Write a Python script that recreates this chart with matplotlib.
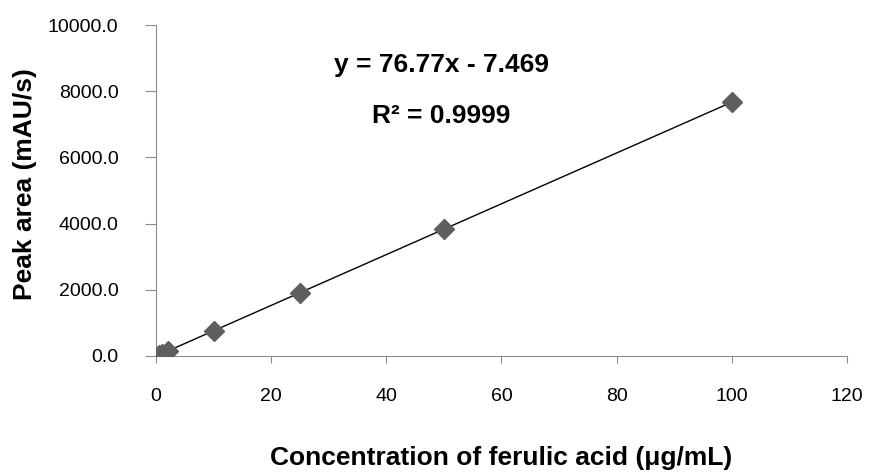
import matplotlib
matplotlib.use("Agg")
import matplotlib.pyplot as plt
import numpy as np

plt.rcParams["font.family"] = ["Liberation Sans", "DejaVu Sans"]

# calibration data (ferulic acid)
conc = [0.5, 1, 2, 10, 25, 50, 100]
area = [31, 70, 146, 760, 1911, 3831, 7670]
slope, intercept = 76.77, -7.469
x_ticks = [0, 20, 40, 60, 80, 100, 120]
y_ticks = [0, 2000, 4000, 6000, 8000, 10000]

fig = plt.figure(figsize=(8.69, 4.72), dpi=100)
ax = fig.add_axes([0.1795, 0.2458, 0.7952, 0.7012])

fit_x = np.array([0, 100])
ax.plot(fit_x, slope * fit_x + intercept, color="black", lw=1.0, zorder=2)
ax.plot(conc, area, linestyle="none", marker="D", markersize=10,
        color="#5f5f5f", markeredgecolor="#5f5f5f", zorder=3)

ax.set_xlim(0, 120)
ax.set_ylim(0, 10000)
ax.set_xticks(x_ticks)
ax.set_yticks(y_ticks)
ax.set_yticklabels([f"{v:.1f}" for v in y_ticks])
ax.tick_params(direction="out", color="#8c8c8c", labelsize=14)
ax.tick_params(axis="y", length=8, pad=19)
ax.tick_params(axis="x", length=5, pad=18)
for s in ["top", "right"]:
    ax.spines[s].set_visible(False)
for s in ["left", "bottom"]:
    ax.spines[s].set_color("#8c8c8c")

lab = dict(fontweight="bold", fontsize=19)
ax.set_xlabel("Concentration of ferulic acid (μg/mL)", **lab)
ax.set_ylabel("Peak area (mAU/s)", **lab)
ax.xaxis.set_label_coords(0.5, -0.308)
ax.xaxis.label.set_va("center")
ax.yaxis.set_label_coords(-0.19, 0.52)
ax.yaxis.label.set_va("center")

eq = dict(fontweight="bold", fontsize=19, ha="center", va="center")
ax.text(49.5, 8800, f"y = {slope}x - {abs(intercept)}", **eq)
ax.text(49.6, 7260, "R² = 0.9999", **eq)

fig.savefig("out.png", dpi=100)
